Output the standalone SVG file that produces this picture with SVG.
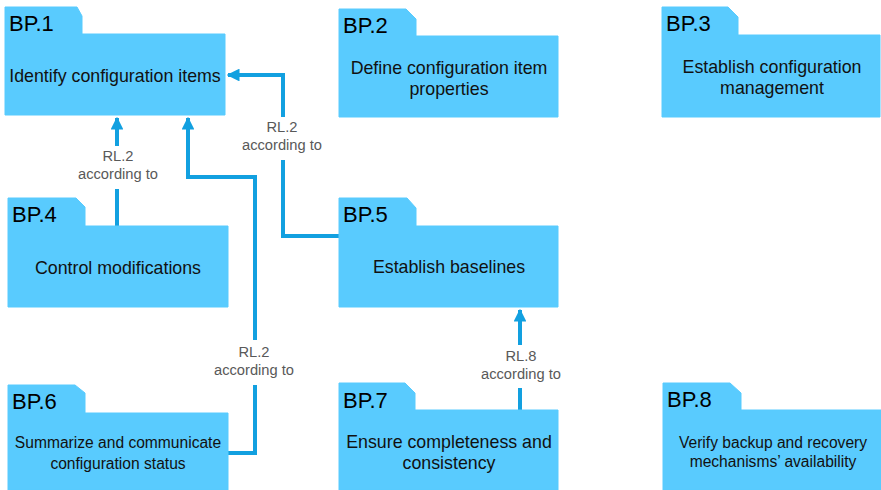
<svg xmlns="http://www.w3.org/2000/svg" width="881" height="490" viewBox="0 0 881 490">
  <style>
    .folder { fill: #59CBFE; stroke: #59CBFE; stroke-width: 1; stroke-linejoin: round; }
    .id { font-family: "Liberation Sans", Arial, sans-serif; font-size: 22px; fill: #000; }
    .title { font-family: "Liberation Sans", Arial, sans-serif; font-size: 17.8px; fill: #111; text-anchor: middle; }
    .title.small { font-size: 15.6px; }
    .conn { fill: none; stroke: #12A0E0; stroke-width: 4; stroke-linejoin: miter; }
    .rl { font-family: "Liberation Sans", Arial, sans-serif; font-size: 14.7px; fill: #595959; text-anchor: middle; }
  </style>
  <defs>
    <marker id="arrow" viewBox="0 0 10 10" refX="9" refY="5" markerWidth="3.2" markerHeight="3.2" orient="auto" markerUnits="strokeWidth">
      <path d="M0,0 L10,5 L0,10 Z" fill="#12A0E0"/>
    </marker>
  </defs>

  <rect width="881" height="490" fill="#fff"/>

  <!-- Connectors -->
  <g id="connectors">
    <!-- BP.4 -> BP.1 -->
    <path class="conn" d="M117,226 V189"/>
    <path class="conn" d="M117,146 V118" marker-end="url(#arrow)"/>
    <text class="rl" x="118" y="161">RL.2</text>
    <text class="rl" x="118" y="179">according to</text>

    <!-- BP.6 -> BP.1 -->
    <path class="conn" d="M228,453 H255 V385"/>
    <path class="conn" d="M255,340 V177 H188 V118" marker-end="url(#arrow)"/>
    <text class="rl" x="254" y="357">RL.2</text>
    <text class="rl" x="254" y="375">according to</text>

    <!-- BP.5 -> BP.1 -->
    <path class="conn" d="M339,236 H283 V160"/>
    <path class="conn" d="M283,117 V75 H228" marker-end="url(#arrow)"/>
    <text class="rl" x="282" y="132">RL.2</text>
    <text class="rl" x="282" y="150">according to</text>

    <!-- BP.7 -> BP.5 -->
    <path class="conn" d="M520,421 V388"/>
    <path class="conn" d="M520,345 V310" marker-end="url(#arrow)"/>
    <text class="rl" x="521" y="361">RL.8</text>
    <text class="rl" x="521" y="379">according to</text>
  </g>

  <!-- BP.1 -->
  <g id="bp1">
    <path class="folder" d="M5,7 H77 L82,16 V34 H225 V115 H5 Z"/>
    <text class="id" x="9" y="31">BP.1</text>
    <text class="title" x="115" y="82">Identify configuration items</text>
  </g>

  <!-- BP.2 -->
  <g id="bp2">
    <path class="folder" d="M339,9 H406 L416,19 V36 H558 V117 H339 Z"/>
    <text class="id" x="343" y="33">BP.2</text>
    <text class="title" x="449" y="74">Define configuration item</text>
    <text class="title" x="449" y="95">properties</text>
  </g>

  <!-- BP.3 -->
  <g id="bp3">
    <path class="folder" d="M662,7 H728 L738,17 V35 H880 V117 H662 Z"/>
    <text class="id" x="666" y="31">BP.3</text>
    <text class="title" x="772" y="73">Establish configuration</text>
    <text class="title" x="772" y="94">management</text>
  </g>

  <!-- BP.4 -->
  <g id="bp4">
    <path class="folder" d="M8,198 H76 L85,207 V226 H228 V307 H8 Z"/>
    <text class="id" x="12" y="222">BP.4</text>
    <text class="title" x="118" y="274">Control modifications</text>
  </g>

  <!-- BP.5 -->
  <g id="bp5">
    <path class="folder" d="M339,198 H407 L416,208 V226 H558 V307 H339 Z"/>
    <text class="id" x="343" y="222">BP.5</text>
    <text class="title" x="449" y="273">Establish baselines</text>
  </g>

  <!-- BP.6 -->
  <g id="bp6">
    <path class="folder" d="M8,385 H75 L85,393 V413 H228 V490 H8 Z"/>
    <text class="id" x="12" y="409">BP.6</text>
    <text class="title small" x="118" y="448">Summarize and communicate</text>
    <text class="title small" x="118" y="469">configuration status</text>
  </g>

  <!-- BP.7 -->
  <g id="bp7">
    <path class="folder" d="M339,383 H405 L415,393 V410 H558 V490 H339 Z"/>
    <text class="id" x="343" y="408">BP.7</text>
    <text class="title" x="449" y="448">Ensure completeness and</text>
    <text class="title" x="449" y="469">consistency</text>
  </g>

  <!-- BP.8 -->
  <g id="bp8">
    <path class="folder" d="M663,383 H730 L741,393 V410 H881 V490 H663 Z"/>
    <text class="id" x="667" y="407">BP.8</text>
    <text class="title small" x="773" y="448">Verify backup and recovery</text>
    <text class="title small" x="773" y="467">mechanisms’ availability</text>
  </g>
</svg>
